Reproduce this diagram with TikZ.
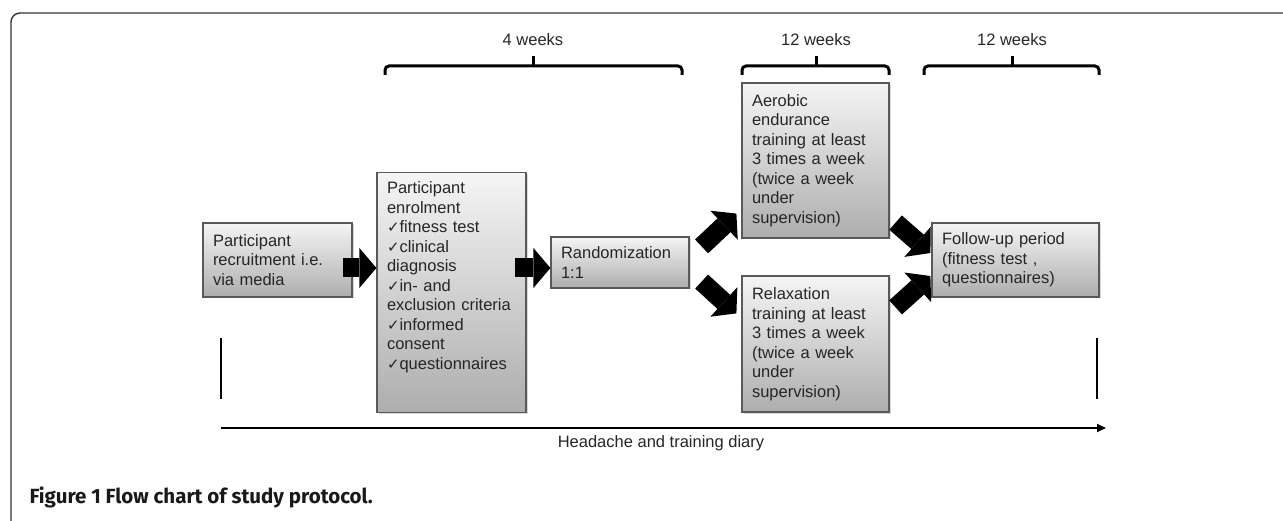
\documentclass[tikz,border=0pt]{standalone}
\usepackage{pgf}
\usepackage{xcolor}
\usepackage{tikz}
\usepackage{fontspec}
\setmainfont{Liberation Sans}
\newfontfamily\symfont{DejaVu Sans}
\newfontfamily\capfont{Fira Sans}
\usetikzlibrary{arrows.meta,shadows,calc}
\def\chk{{\symfont\fontsize{15}{15}\selectfont ✓}}

\begin{document}
\begin{tikzpicture}[x=1pt,y=-1pt]
    \tikzstyle{every node}=[font=\fontsize{16.5}{19.5}\selectfont, text=black!85]
    \tikzstyle{stepbox}=[draw=black!65, line width=1.2pt, top color=black!4, bottom color=black!32,
      align=left, inner xsep=10pt, inner ysep=0pt,
      drop shadow={shadow xshift=1.5pt, shadow yshift=-1.5pt, opacity=0.3}]
    \tikzstyle{fat}=[line width=19pt, -{Triangle[width=40pt,length=17pt,line width=0pt]}]
    \tikzstyle{brace}=[line width=3pt, rounded corners=4pt]
    \useasboundingbox (0,0) rectangle (1283,521);
    \draw[black!80, line width=1.4pt, rounded corners=9pt] (11,530) -- (11,13) -- (1295,13);
    % time spans
    \draw[brace] (385,75) -- (385,66) -- (682,66) -- (682,75);
    \draw[brace] (533,66) -- (533,56);
    \node (w4) at (533,40) {4 weeks};
    \draw[brace] (742,75) -- (742,66) -- (889,66) -- (889,75);
    \draw[brace] (816,66) -- (816,56);
    \node (w12a) at (816,40) {12 weeks};
    \draw[brace] (924,75) -- (924,66) -- (1099,66) -- (1099,75);
    \draw[brace] (1012,66) -- (1012,56);
    \node (w12b) at (1012,40) {12 weeks};
    % steps
    \node[stepbox, text width=129pt, minimum height=74pt] (rec) at (277.5,260)
      {Participant\\recruitment i.e.\\via media};
    \node[stepbox, text width=129pt, text height=21pt, text depth=219pt, anchor=north] (enr) at (451.5,172)
      {Participant\\enrolment\\\chk fitness test\\\chk clinical\\diagnosis\\\chk in- and\\exclusion criteria\\\chk informed\\consent\\\chk questionnaires};
    \node[stepbox, text width=118pt, minimum height=51pt] (rnd) at (620,262.5)
      {Randomization\\1:1};
    \node[stepbox, text width=127pt, minimum height=155pt] (aer) at (815.5,160.5)
      {Aerobic\\endurance\\training at least\\3 times a week\\(twice a week\\under\\supervision)};
    \node[stepbox, text width=127pt, minimum height=136pt] (rel) at (815.5,344)
      {Relaxation\\training at least\\3 times a week\\(twice a week\\under\\supervision)};
    \node[stepbox, text width=147pt, minimum height=74pt] (fup) at (1015.5,260)
      {Follow-up period\\(fitness test ,\\questionnaires)};
    % flow
    \draw[fat] ($(rec.east)+(-10,8)$) -- ($(enr.west |- rec.east)+(0,8)$);
    \draw[fat] ($(enr.east |- rnd.west)+(-12,5.5)$) -- ($(rnd.west)+(0,5.5)$);
    \draw[fat] ($(rnd.north east)+(12,10)$) -- ($(aer.south west)+(-5,-25)$);
    \draw[fat] ($(rnd.south east)+(12,-7)$) -- ($(rel.north west)+(-5,38)$);
    \draw[fat] ($(aer.south east)+(6,-16)$) -- ($(fup.west)+(-1,-7)$);
    \draw[fat] ($(rel.north east)+(6,32)$) -- ($(fup.west)+(-1,16)$);
    % diary
    \draw[line width=2pt] (221,338) -- (221,399);
    \draw[line width=2pt] (1097,338) -- (1097,399);
    \coordinate (dl) at (221,428);
    \coordinate (dr) at (1106,428);
    \draw[line width=1.8pt, -{Triangle[length=9pt,width=8pt]}] (dl) -- (dr);
    \node (diary) at (661,443) {Headache and training diary};
    \node[anchor=base west, font=\capfont\bfseries\fontsize{20.5}{22}\selectfont, text=black!90] (cap) at (26,503)
      {Figure 1 Flow chart of study protocol.};
\end{tikzpicture}
\end{document}
